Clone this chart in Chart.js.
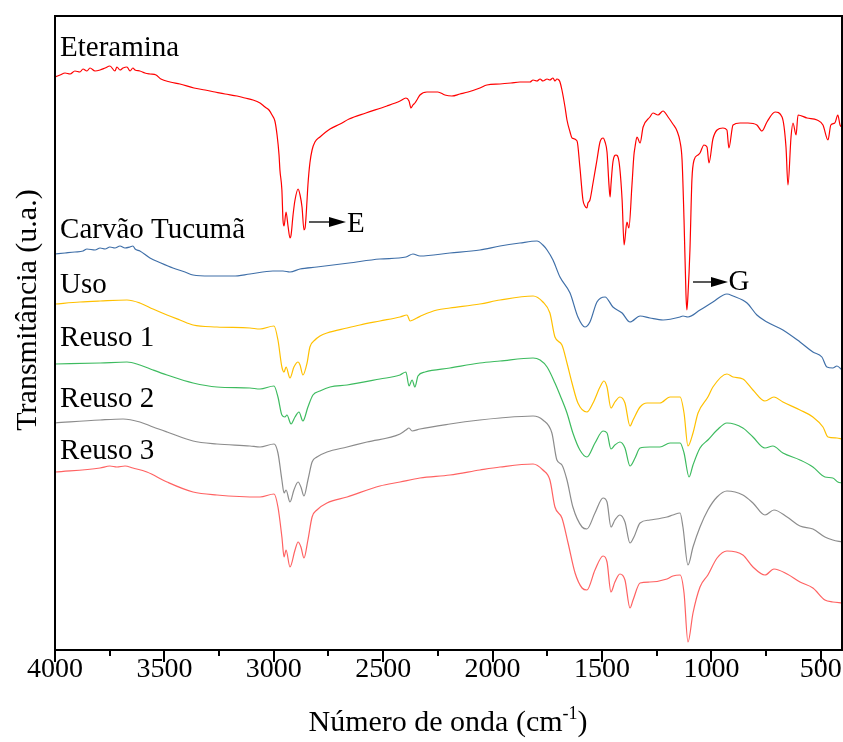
<!DOCTYPE html>
<html>
<head>
<meta charset="utf-8">
<script src="https://cdn.jsdelivr.net/npm/chart.js@4.4.0/dist/chart.umd.min.js"></script>
<style>html,body{margin:0;padding:0;background:#fff;}canvas{display:block;}</style>
</head>
<body>
<canvas id="c" width="843" height="742"></canvas>
<script>
// ---------- DATA (wavenumber in cm-1, transmittance in arbitrary offset units) ----------
const seriesNames = ['Eteramina', 'Carvão Tucumã', 'Uso', 'Reuso 1', 'Reuso 2', 'Reuso 3'];
const majorTicks = [4000, 3500, 3000, 2500, 2000, 1500, 1000, 500];
const minorTicks = [3750, 3250, 2750, 2250, 1750, 1250, 750];

const eteraminaWN = [4000,3977,3954,3931,3909,3886,3872,3854,3840,3817,3794,3771,3749,3726,3717,3703,3689,3671,3657,3644,3634,3612,3589,3566,3538,3516,3474,3429,3365,3314,3269,3223,3168,3132,3095,3063,3040,3022,3008,2995,2985,2976,2972,2963,2958,2953,2944,2935,2926,2921,2912,2903,2889,2880,2871,2862,2857,2848,2844,2835,2825,2812,2789,2743,2697,2656,2579,2483,2423,2396,2382,2373,2364,2355,2346,2332,2300,2250,2218,2186,2149,2112,2058,2026,1966,1916,1875,1829,1815,1797,1783,1770,1751,1738,1724,1715,1706,1697,1692,1683,1669,1660,1646,1637,1614,1601,1587,1578,1569,1564,1555,1541,1523,1509,1495,1486,1477,1468,1463,1459,1450,1436,1422,1408,1399,1386,1377,1363,1354,1349,1340,1326,1312,1281,1267,1244,1221,1198,1176,1157,1143,1134,1125,1116,1112,1107,1098,1089,1079,1061,1052,1034,1020,1011,993,974,947,929,920,901,869,833,792,769,746,709,677,659,650,636,627,613,604,563,517,490,467,454,436,422,412,403];
const eteraminaT  = [573,575,577,576,579,578,581,579,582,579,580,582,584,579,583,580,582,583,579,582,580,579,577,576,575,571,568,566,562,560,558,556,554,552,550,547,543,540,535,529,515,495,480,460,430,424,438,424,412,415,435,450,461,455,443,420,422,450,465,487,500,508,513,521,526,531,537,544,549,552,549,542,545,547,550,555,558,558,555,554,556,558,562,565,566,567,568,568,570,569,571,569,571,570,572,569,571,570,568,560,543,530,518,512,509,483,450,444,442,447,450,467,490,508,512,508,498,465,453,465,488,495,488,450,405,428,422,465,495,503,513,507,523,533,537,535,539,533,526,519,508,490,430,355,340,355,400,470,490,495,497,505,503,487,511,520,522,520,502,525,527,527,525,519,528,538,533,503,465,513,527,515,535,532,530,525,510,525,527,535,525,523];

const carvaoWN = [4000,3954,3909,3872,3854,3817,3794,3771,3749,3726,3703,3680,3657,3644,3634,3612,3566,3516,3461,3406,3369,3292,3186,3109,3004,2958,2926,2880,2803,2656,2515,2396,2364,2332,2195,2058,1966,1875,1797,1770,1751,1724,1692,1646,1610,1578,1555,1523,1486,1450,1408,1372,1326,1281,1221,1143,1130,1107,1052,993,929,901,837,792,746,673,595,536,495,472,445,426,403];
const carvaoT  = [396,397,398,399,401,400,402,401,403,402,404,402,403,404,401,399,392,387,382,378,375,374,374,376,379,379,378,381,383,387,391,393,396,394,397,400,404,407,409,405,400,390,373,357,333,323,328,348,353,343,337,328,334,332,330,333,334,333,340,348,356,354,347,335,328,320,308,298,293,283,282,284,280];

const usoWN = [4000,3886,3794,3671,3612,3552,3488,3429,3369,3260,3109,3063,2999,2981,2963,2953,2944,2926,2908,2889,2880,2867,2848,2835,2812,2789,2757,2665,2606,2515,2423,2391,2377,2364,2346,2318,2254,2195,2058,1966,1815,1770,1738,1715,1683,1660,1637,1610,1569,1541,1509,1491,1477,1459,1441,1418,1395,1372,1358,1326,1294,1235,1189,1143,1125,1107,1084,1061,1016,993,929,901,856,810,755,714,673,595,536,490,467,426,403];
const usoT  = [346,348,349,350,347,341,335,330,325,323,322,321,324,310,283,278,283,272,283,288,285,275,287,303,310,314,317,322,325,329,333,335,329,330,332,335,340,342,346,350,354,348,337,313,305,287,267,247,238,247,263,269,263,242,248,253,247,224,230,243,247,247,253,253,237,204,217,237,253,263,276,273,271,260,249,253,248,240,233,223,213,212,211];

const reuso1WN = [4000,3794,3671,3612,3552,3488,3369,3260,3109,3063,2999,2981,2963,2949,2940,2921,2903,2885,2867,2844,2821,2789,2743,2665,2515,2423,2396,2382,2368,2355,2341,2309,2195,2058,1966,1815,1783,1751,1715,1692,1660,1633,1601,1569,1532,1495,1477,1459,1441,1418,1395,1372,1349,1326,1281,1235,1189,1143,1125,1102,1084,1052,1016,974,929,856,810,755,719,673,595,536,481,445,422,403];
const reuso1T  = [286,287,288,285,280,275,267,263,262,261,264,253,235,233,235,226,233,238,229,243,255,259,263,265,271,275,278,264,270,263,274,278,282,287,289,292,290,283,267,255,237,217,200,193,207,219,217,201,205,208,202,184,192,202,203,203,207,207,197,173,185,202,210,220,227,222,213,202,204,197,190,183,173,172,168,167];

const reuso2WN = [4000,3794,3689,3612,3552,3488,3369,3260,3109,3063,2999,2981,2963,2953,2944,2926,2908,2889,2876,2862,2844,2825,2803,2757,2665,2574,2423,2396,2382,2368,2332,2195,2058,1966,1815,1770,1729,1706,1683,1660,1633,1591,1569,1532,1495,1477,1459,1441,1418,1395,1372,1354,1326,1281,1203,1176,1143,1130,1107,1084,1052,1016,974,929,856,810,755,714,654,595,536,481,445,403];
const reuso2T  = [227,230,231,228,223,218,209,206,204,203,206,197,170,157,160,148,160,168,163,154,170,188,193,198,203,208,216,220,222,219,221,226,230,232,234,230,217,190,185,170,143,123,121,137,152,148,123,130,135,128,107,113,127,130,133,135,137,123,85,103,123,140,153,159,155,147,135,140,133,124,121,113,110,108];

const reuso3WN = [4000,3794,3749,3717,3680,3644,3580,3488,3369,3260,3063,2999,2981,2963,2953,2944,2926,2903,2889,2876,2862,2844,2825,2803,2757,2665,2515,2423,2332,2195,2058,1966,1815,1770,1738,1715,1683,1655,1623,1591,1569,1532,1495,1477,1459,1441,1418,1395,1372,1358,1326,1281,1203,1176,1143,1125,1107,1084,1052,1016,974,929,856,810,755,714,654,595,536,481,445,403];
const reuso3T  = [178,182,184,183,184,182,178,168,158,155,153,156,143,113,93,100,83,100,108,103,92,110,133,140,147,153,164,168,172,175,180,183,186,180,170,143,132,107,77,62,60,80,94,88,58,68,76,70,42,50,67,68,71,74,75,57,8,37,63,75,92,99,95,83,75,81,76,68,62,50,48,47];

const seriesColors = ['#ff0000', '#3f6fa8', '#ffc000', '#3dbb5f', '#8c8c8c', '#ff6262'];
const seriesWN = [eteraminaWN, carvaoWN, usoWN, reuso1WN, reuso2WN, reuso3WN];
const seriesT = [eteraminaT, carvaoT, usoT, reuso1T, reuso2T, reuso3T];

// label anchors (wavenumber, transmittance baseline)
const labelWN = 3977;
const labelT = [594, 412, 357, 304, 243, 191];

const FONT = "'Liberation Serif','Times New Roman',serif";

const datasets = seriesNames.map((name, i) => ({
  label: name,
  data: seriesWN[i].map((w, j) => ({ x: w, y: seriesT[i][j] })),
  borderColor: seriesColors[i],
  borderWidth: 1.2,
  pointRadius: 0,
  fill: false,
  cubicInterpolationMode: 'monotone'
}));

function drawArrow(ctx, x1, x2, yy) {
  ctx.beginPath();
  ctx.moveTo(x1, yy); ctx.lineTo(x2 - 14, yy); ctx.stroke();
  ctx.beginPath();
  ctx.moveTo(x2, yy); ctx.lineTo(x2 - 17, yy - 5); ctx.lineTo(x2 - 17, yy + 5); ctx.closePath(); ctx.fill();
}

const decor = {
  id: 'decor',
  afterDatasetsDraw(chart) {
    const { ctx, chartArea: a, scales: { x, y } } = chart;
    ctx.save();
    ctx.strokeStyle = '#000'; ctx.fillStyle = '#000'; ctx.lineWidth = 2;
    ctx.strokeRect(a.left, a.top, a.right - a.left, a.bottom - a.top);
    ctx.beginPath();
    majorTicks.forEach(v => { const p = Math.round(x.getPixelForValue(v)); ctx.moveTo(p, a.bottom); ctx.lineTo(p, a.bottom + 12); });
    minorTicks.forEach(v => { const p = Math.round(x.getPixelForValue(v)); ctx.moveTo(p, a.bottom); ctx.lineTo(p, a.bottom + 6); });
    ctx.stroke();

    // series labels
    ctx.font = `29px ${FONT}`; ctx.textAlign = 'left'; ctx.textBaseline = 'alphabetic';
    seriesNames.forEach((n, i) => ctx.fillText(n, x.getPixelForValue(labelWN), y.getPixelForValue(labelT[i])));

    // arrows E and G
    ctx.lineWidth = 1.5; ctx.strokeStyle = '#222';
    drawArrow(ctx, x.getPixelForValue(2839), x.getPixelForValue(2670), y.getPixelForValue(428));
    drawArrow(ctx, x.getPixelForValue(1084), x.getPixelForValue(924), y.getPixelForValue(368));
    ctx.fillText('E', x.getPixelForValue(2665), y.getPixelForValue(418));
    ctx.fillText('G', x.getPixelForValue(922), y.getPixelForValue(360));

    // x title with superscript
    ctx.font = `30px ${FONT}`;
    const t1 = 'Número de onda (cm', t3 = ')';
    const w1 = ctx.measureText(t1).width, w3 = ctx.measureText(t3).width;
    ctx.font = `18px ${FONT}`;
    const w2 = ctx.measureText('-1').width;
    const total = w1 + w2 + w3;
    let sx = 448 - total / 2; const by = 731;
    ctx.font = `30px ${FONT}`; ctx.fillText(t1, sx, by);
    ctx.font = `18px ${FONT}`; ctx.fillText('-1', sx + w1, by - 12);
    ctx.font = `30px ${FONT}`; ctx.fillText(t3, sx + w1 + w2, by);

    // y title
    ctx.save();
    ctx.translate(28, 310); ctx.rotate(-Math.PI / 2);
    ctx.textAlign = 'center'; ctx.textBaseline = 'middle';
    ctx.font = `30px ${FONT}`;
    ctx.fillText('Transmitância (u.a.)', 0, 0);
    ctx.restore();
    ctx.restore();
  }
};

new Chart(document.getElementById('c'), {
  type: 'line',
  data: { datasets },
  options: {
    responsive: false,
    animation: false,
    events: [],
    layout: { padding: { top: 16, right: 1, bottom: 0, left: 0 } },
    plugins: { legend: { display: false }, tooltip: { enabled: false } },
    scales: {
      x: {
        type: 'linear', reverse: true, min: 403, max: 4000,
        afterBuildTicks: s => { s.ticks = majorTicks.concat(minorTicks).sort((p, q) => p - q).map(v => ({ value: v })); },
        ticks: {
          autoSkip: false, maxRotation: 0, padding: 3, color: '#000',
          font: { family: FONT, size: 28 },
          callback: v => (majorTicks.includes(v) ? String(v) : '')
        },
        grid: { display: false, drawTicks: false },
        border: { display: false },
        afterFit: s => { s.height = 92; }
      },
      y: {
        type: 'linear', min: 0, max: 634,
        ticks: { display: false },
        grid: { display: false, drawTicks: false },
        border: { display: false },
        afterFit: s => { s.width = 55; }
      }
    }
  },
  plugins: [decor]
});
</script>
</body>
</html>
